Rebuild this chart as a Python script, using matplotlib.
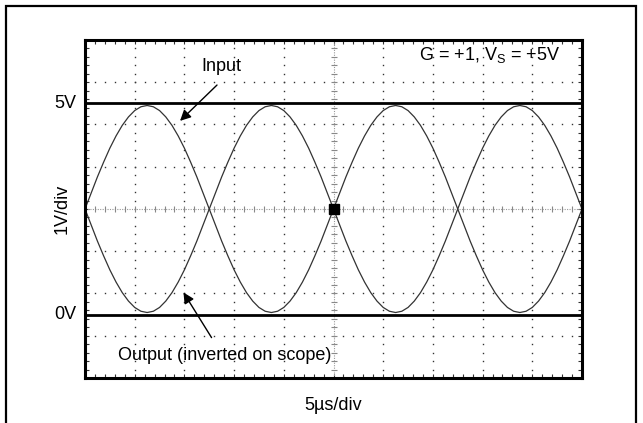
import numpy as np
import matplotlib.pyplot as plt
from matplotlib.patches import Rectangle

plt.rcParams['font.family'] = ['Liberation Sans', 'DejaVu Sans']
plt.rcParams['mathtext.fontset'] = 'custom'
plt.rcParams['mathtext.rm'] = 'Liberation Sans'

# scope trace, 5us/div, 1V/div, samples every 1/8 div
time_us = np.linspace(0, 50, 81)
input_v = [2.50, 2.88, 3.26, 3.61, 3.94, 4.23, 4.48, 4.68, 4.83, 4.92,
           4.95, 4.92, 4.83, 4.68, 4.48, 4.23, 3.94, 3.61, 3.26, 2.88,
           2.50, 2.12, 1.74, 1.39, 1.06, 0.77, 0.52, 0.32, 0.17, 0.08,
           0.05, 0.08, 0.17, 0.32, 0.52, 0.77, 1.06, 1.39, 1.74, 2.12,
           2.50, 2.88, 3.26, 3.61, 3.94, 4.23, 4.48, 4.68, 4.83, 4.92,
           4.95, 4.92, 4.83, 4.68, 4.48, 4.23, 3.94, 3.61, 3.26, 2.88,
           2.50, 2.12, 1.74, 1.39, 1.06, 0.77, 0.52, 0.32, 0.17, 0.08,
           0.05, 0.08, 0.17, 0.32, 0.52, 0.77, 1.06, 1.39, 1.74, 2.12,
           2.50]
output_v = [2.50, 2.12, 1.74, 1.39, 1.06, 0.77, 0.52, 0.32, 0.17, 0.08,
            0.05, 0.08, 0.17, 0.32, 0.52, 0.77, 1.06, 1.39, 1.74, 2.12,
            2.50, 2.88, 3.26, 3.61, 3.94, 4.23, 4.48, 4.68, 4.83, 4.92,
            4.95, 4.92, 4.83, 4.68, 4.48, 4.23, 3.94, 3.61, 3.26, 2.88,
            2.50, 2.12, 1.74, 1.39, 1.06, 0.77, 0.52, 0.32, 0.17, 0.08,
            0.05, 0.08, 0.17, 0.32, 0.52, 0.77, 1.06, 1.39, 1.74, 2.12,
            2.50, 2.88, 3.26, 3.61, 3.94, 4.23, 4.48, 4.68, 4.83, 4.92,
            4.95, 4.92, 4.83, 4.68, 4.48, 4.23, 3.94, 3.61, 3.26, 2.88,
            2.50]
ref_levels = [5.0, 0.0]
ref_labels = ['5V', '0V']

x_lo, x_hi = 0, 50
y_lo, y_hi = -1.5, 6.5

fig = plt.figure(figsize=(6.43, 4.23), dpi=100)
ax = fig.add_axes([85/643, 1-378/423, (582-85)/643, (378-40)/423])
ax.set_xlim(x_lo, x_hi)
ax.set_ylim(y_lo, y_hi)

# dotted graticule
minor_y = np.arange(y_lo, y_hi + 0.01, 0.2)
minor_x = np.arange(x_lo, x_hi + 0.01, 1.0)
for gx in range(5, 50, 5):
    if gx == 25:
        continue
    ax.plot([gx]*len(minor_y), minor_y, ls='none', marker='s', ms=1.0, color='#333', mew=0)
for gy in np.arange(y_lo + 1, y_hi, 1.0):
    if abs(gy - 2.5) < 0.01:
        continue
    ax.plot(minor_x, [gy]*len(minor_x), ls='none', marker='s', ms=1.0, color='#333', mew=0)

# center crosshair with ticks
ax.axhline(2.5, color='#999', lw=0.8, ls=(0, (1, 1.2)))
ax.axvline(25, color='#999', lw=0.8, ls=(0, (1, 1.2)))
ax.plot(minor_x, [2.5]*len(minor_x), ls='none', marker='|', ms=4, color='#888', mew=0.8)
ax.plot([25]*len(minor_y), minor_y, ls='none', marker='_', ms=4, color='#888', mew=0.8)

# traces
ax.plot(time_us, input_v, color='#333', lw=0.9)
ax.plot(time_us, output_v, color='#333', lw=0.9)

for lv in ref_levels:
    ax.axhline(lv, color='black', lw=2.0)
for lv, lab in zip(ref_levels, ref_labels):
    ax.text(-0.9, lv, lab, ha='right', va='center', fontsize=13)

# trigger marker
ax.plot([25], [2.5], marker='s', ms=7, color='black')

# annotations
ax.text(13.7, 5.87, 'Input', ha='center', va='center', fontsize=13)
ax.annotate('', xy=(9.36, 4.54), xytext=(13.48, 5.48),
            arrowprops=dict(arrowstyle='-|>', color='black', lw=1, mutation_scale=16))
ax.text(14.1, -0.96, 'Output (inverted on scope)', ha='center', va='center', fontsize=13)
ax.annotate('', xy=(9.76, 0.58), xytext=(12.88, -0.6),
            arrowprops=dict(arrowstyle='-|>', color='black', lw=1, mutation_scale=16))
ax.text(47.8, 6.14, r'G = +1, V$_\mathregular{S}$ = +5V', ha='right', va='center', fontsize=13)

ax.set_xticks(np.arange(0, 51, 5))
ax.set_yticks(np.arange(y_lo, y_hi + 0.01, 1.0))
ax.set_xticks(minor_x, minor=True)
ax.set_yticks(minor_y, minor=True)
ax.tick_params(which='both', direction='in', length=3, width=0.8, color='#333',
               top=True, right=True, labelbottom=False, labelleft=False)
for sp in ax.spines.values():
    sp.set_linewidth(2.2)

ax.set_ylabel('1V/div', fontsize=13, labelpad=10)
ax.set_xlabel('5\u00b5s/div', fontsize=13, labelpad=14)

# outer frame
fig.add_artist(Rectangle((6/643, -0.1), 630/643, 1.1 - 6/423, transform=fig.transFigure,
                         fill=False, lw=1.6, edgecolor='black', clip_on=False))

fig.savefig('out.png', dpi=100)
